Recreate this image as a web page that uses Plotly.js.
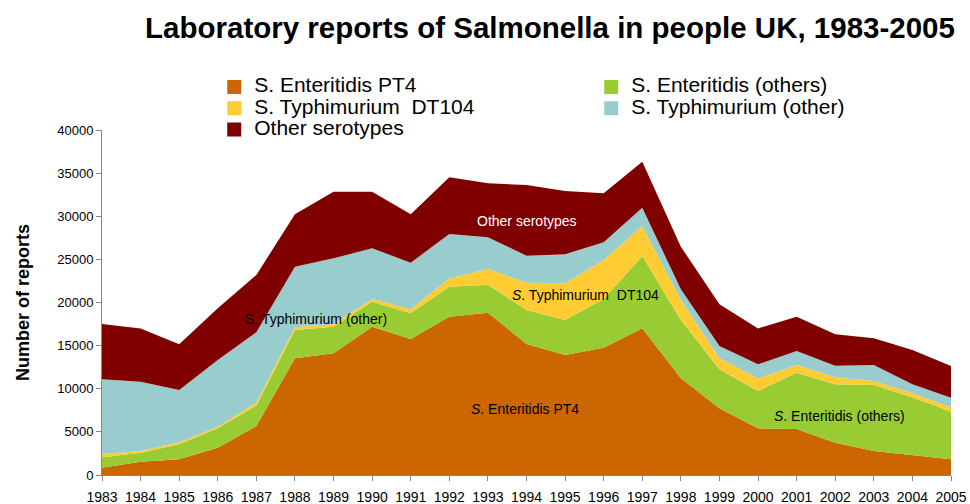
<!DOCTYPE html>
<html>
<head>
<meta charset="utf-8">
<script src="https://cdn.plot.ly/plotly-3.0.1.min.js"></script>
<style>html,body{margin:0;padding:0;background:#fff;}#chart{width:970px;height:504px;}</style>
</head>
<body>
<div id="chart"></div>
<script>
var years = [1983,1984,1985,1986,1987,1988,1989,1990,1991,1992,1993,1994,1995,1996,1997,1998,1999,2000,2001,2002,2003,2004,2005];
var seriesNames = ['S. Enteritidis PT4','S. Enteritidis (others)','S. Typhimurium \u00a0DT104','S. Typhimurium (other)','Other serotypes'];
var entPT4 =      [850,1540,1820,3170,5680,13530,14110,17200,15770,18360,18820,15190,13910,14760,17010,11210,7730,5410,5330,3750,2780,2320,1820];
var entOthers =   [1200,1050,1740,2240,2360,3280,3090,2890,2970,3480,3250,3940,4060,5650,8380,6760,4520,4330,6530,6760,7650,6690,5520];
var typhDT104 =   [380,190,230,190,350,310,310,280,470,930,1810,3170,4250,4520,3480,2320,1280,1470,890,820,470,460,510];
var typhOther =   [8670,8040,6070,7730,8150,7030,7610,5910,5410,5170,3680,3130,3370,2050,2120,1240,1430,1620,1630,1350,1850,1040,1110];
var otherSero =   [6400,6180,5290,6000,6650,6070,7730,6570,5600,6570,6260,8190,7340,5680,5340,4940,4830,4170,3980,3630,3100,3980,3680];
var yTicks = [0,5000,10000,15000,20000,25000,30000,35000,40000];

var colors = ['#CC6600','#99CC33','#FFCC33','#99CCCC','#800000'];
var values = [entPT4, entOthers, typhDT104, typhOther, otherSero];

var traces = [];
values.forEach(function(v, i){
  traces.push({
    x: years, y: v, type: 'scatter', mode: 'lines', stackgroup: 'one',
    line: {width: 0, color: colors[i]}, fillcolor: colors[i],
    name: seriesNames[i], showlegend: false, legendgroup: 'g'+i, hoverinfo: 'x+y+name'
  });
});
values.forEach(function(v, i){
  traces.push({
    x: [null], y: [null], type: 'scatter', mode: 'markers',
    marker: {symbol: 'square', size: 14, color: colors[i]},
    name: '<span style="font-size:21px">' + seriesNames[i] + '</span>',
    legendgroup: 'g'+i, showlegend: true, hoverinfo: 'skip'
  });
});

var annFont = {family: '"Liberation Sans", Arial, sans-serif', size: 14, color: '#000'};
var layout = {
  width: 970, height: 504,
  paper_bgcolor: '#fff', plot_bgcolor: '#fff',
  font: {family: '"Liberation Sans", Arial, sans-serif', color: '#000'},
  margin: {l: 102, r: 19, t: 130, b: 29, autoexpand: false},
  title: {
    text: '<b>Laboratory reports of Salmonella in people UK, 1983-2005</b>',
    font: {size: 29.5, color: '#000', family: '"Liberation Sans", Arial, sans-serif'},
    x: 550/970, xref: 'container', xanchor: 'center',
    y: 1 - 28/504, yref: 'container', yanchor: 'middle'
  },
  showlegend: true,
  legend: {
    orientation: 'h', entrywidth: 332, entrywidthmode: 'pixels',
    x: 0.1322, xanchor: 'left', y: 1.1699, yanchor: 'top',
    font: {size: 14, color: '#000'}, bgcolor: 'rgba(0,0,0,0)', borderwidth: 0,
    traceorder: 'normal'
  },
  xaxis: {
    type: 'linear', range: [1983, 2005], tickmode: 'array', tickvals: years,
    ticktext: years.map(String),
    showgrid: false, zeroline: false, showline: true, linecolor: '#868686', linewidth: 1,
    ticks: 'outside', ticklen: 5, tickcolor: '#868686', tickwidth: 1,
    tickfont: {size: 14, color: '#000'}, ticklabelstandoff: 4, fixedrange: true
  },
  yaxis: {
    range: [0, 40000], tickmode: 'array', tickvals: yTicks, tickformat: 'd',
    showgrid: false, zeroline: false, showline: true, linecolor: '#868686', linewidth: 1,
    ticks: 'outside', ticklen: 5, tickcolor: '#868686', tickwidth: 1,
    tickfont: {size: 13, color: '#000'},
    title: {text: '<b>Number of reports</b>', font: {size: 18, color: '#000'}, standoff: 22},
    fixedrange: true
  },
  annotations: [
    {x: 1994.01, y: 29450, text: 'Other serotypes', showarrow: false, font: {family: annFont.family, size: 14, color: '#fff'}},
    {x: 1988.55, y: 18090, text: 'S. Typhimurium (other)', showarrow: false, font: annFont},
    {x: 1995.54, y: 20870, text: '<i>S</i>. Typhimurium \u00a0DT104', showarrow: false, font: annFont},
    {x: 1993.96, y: 7650, text: '<i>S</i>. Enteritidis PT4', showarrow: false, font: annFont},
    {x: 2002.1, y: 6840, text: '<i>S</i>. Enteritidis (others)', showarrow: false, font: annFont}
  ]
};

Plotly.newPlot('chart', traces, layout, {displayModeBar: false, staticPlot: true});
</script>
</body>
</html>
